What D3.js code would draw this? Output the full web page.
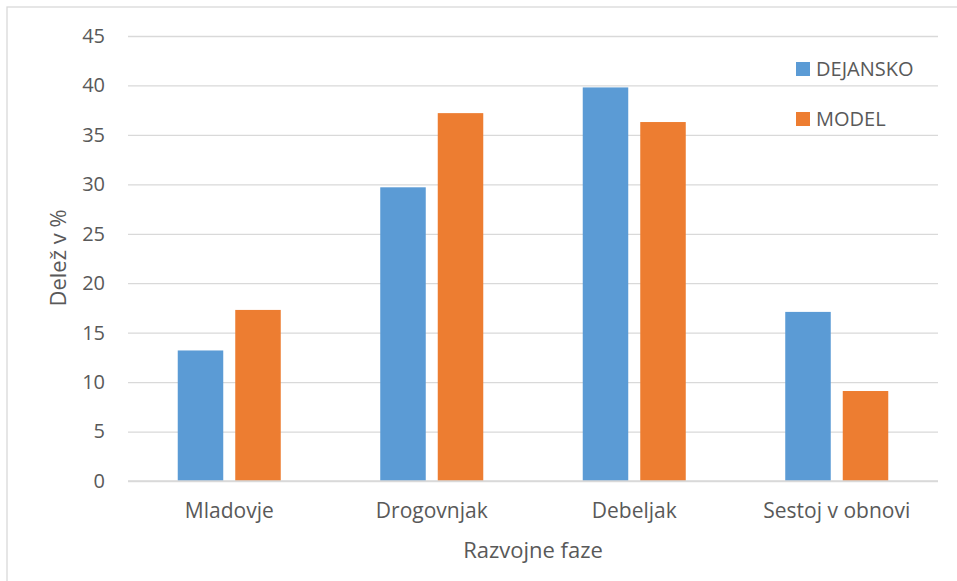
<!DOCTYPE html>
<html>
<head>
<meta charset="utf-8">
<script src="https://cdn.jsdelivr.net/npm/d3@7/dist/d3.min.js"></script>
<style>
  html, body { margin: 0; padding: 0; background: #fff; }
  svg { display: block; font-family: "Open Sans", sans-serif; }
</style>
</head>
<body>
<svg id="chart" width="957" height="581"></svg>
<script>
// Developmental phases and their shares (%)
const categories = ["Mladovje", "Drogovnjak", "Debeljak", "Sestoj v obnovi"];
const seriesNames = ["DEJANSKO", "MODEL"];
const dejansko = [13.2, 29.7, 39.8, 17.1];
const model = [17.3, 37.2, 36.3, 9.1];
const yTicks = [0, 5, 10, 15, 20, 25, 30, 35, 40, 45];
const colors = ["#5B9BD5", "#ED7D31"];

const values = [dejansko, model];
const rows = categories.map((c, i) => ({
  cat: c,
  vals: seriesNames.map((s, j) => ({ s, v: values[j][i], color: colors[j] }))
}));

const svg = d3.select("#chart");
const W = 957, H = 581;
const m = { left: 128, right: 938, top: 36, bottom: 481 };
const textColor = "#595959";
const gridColor = "#d9d9d9";

// chart area frame
svg.append("rect")
  .attr("x", 7).attr("y", 7)
  .attr("width", W).attr("height", H)
  .attr("fill", "#fff")
  .attr("stroke", gridColor).attr("stroke-width", 1.3);

const x0 = d3.scaleBand().domain(categories).range([m.left, m.right]);
const x1 = d3.scaleBand().domain(seriesNames)
  .range([0, x0.bandwidth()])
  .paddingInner(0.2087).paddingOuter(0.865);
const y = d3.scaleLinear().domain([0, 45]).range([m.bottom, m.top]);

// horizontal gridlines + y tick labels
const yAxis = d3.axisLeft(y).tickValues(yTicks)
  .tickSize(-(m.right - m.left)).tickPadding(23);
const gy = svg.append("g").attr("transform", `translate(${m.left},0)`).call(yAxis);
gy.select(".domain").remove();
gy.selectAll(".tick line").attr("stroke", gridColor).attr("stroke-width", 1.3);
gy.selectAll(".tick text")
  .attr("fill", textColor)
  .style("font-size", "20px")
  .style("font-family", "'Open Sans', sans-serif");

// bars
const groups = svg.append("g").selectAll("g")
  .data(rows).join("g")
  .attr("transform", d => `translate(${x0(d.cat)},0)`);
groups.selectAll("rect")
  .data(d => d.vals).join("rect")
  .attr("x", d => x1(d.s))
  .attr("width", x1.bandwidth())
  .attr("y", d => y(d.v))
  .attr("height", d => y(0) - y(d.v))
  .attr("fill", d => d.color);

// baseline
svg.append("line")
  .attr("x1", m.left).attr("x2", m.right)
  .attr("y1", y(0)).attr("y2", y(0))
  .attr("stroke", gridColor).attr("stroke-width", 1.5);

// category labels
const xAxis = d3.axisBottom(x0).tickSize(0).tickPadding(22);
const gx = svg.append("g").attr("transform", `translate(0,${m.bottom})`).call(xAxis);
gx.select(".domain").remove();
gx.selectAll(".tick text")
  .attr("fill", textColor)
  .style("font-size", "21px")
  .style("font-family", "'Open Sans', sans-serif");

// axis titles
svg.append("text")
  .attr("x", (m.left + m.right) / 2).attr("y", 558)
  .attr("text-anchor", "middle")
  .attr("fill", textColor)
  .style("font-size", "22px")
  .text("Razvojne faze");

svg.append("text")
  .attr("transform", "translate(66,258) rotate(-90)")
  .attr("text-anchor", "middle")
  .attr("fill", textColor)
  .style("font-size", "22px")
  .text("Delež v %");

// legend
const legend = svg.append("g").selectAll("g")
  .data(seriesNames).join("g")
  .attr("transform", (d, i) => `translate(796,${62 + i * 50})`);
legend.append("rect")
  .attr("width", 14).attr("height", 14)
  .attr("fill", (d, i) => colors[i]);
legend.append("text")
  .attr("x", 20).attr("y", 14)
  .attr("fill", textColor)
  .style("font-size", "20px")
  .text(d => d);
</script>
</body>
</html>
